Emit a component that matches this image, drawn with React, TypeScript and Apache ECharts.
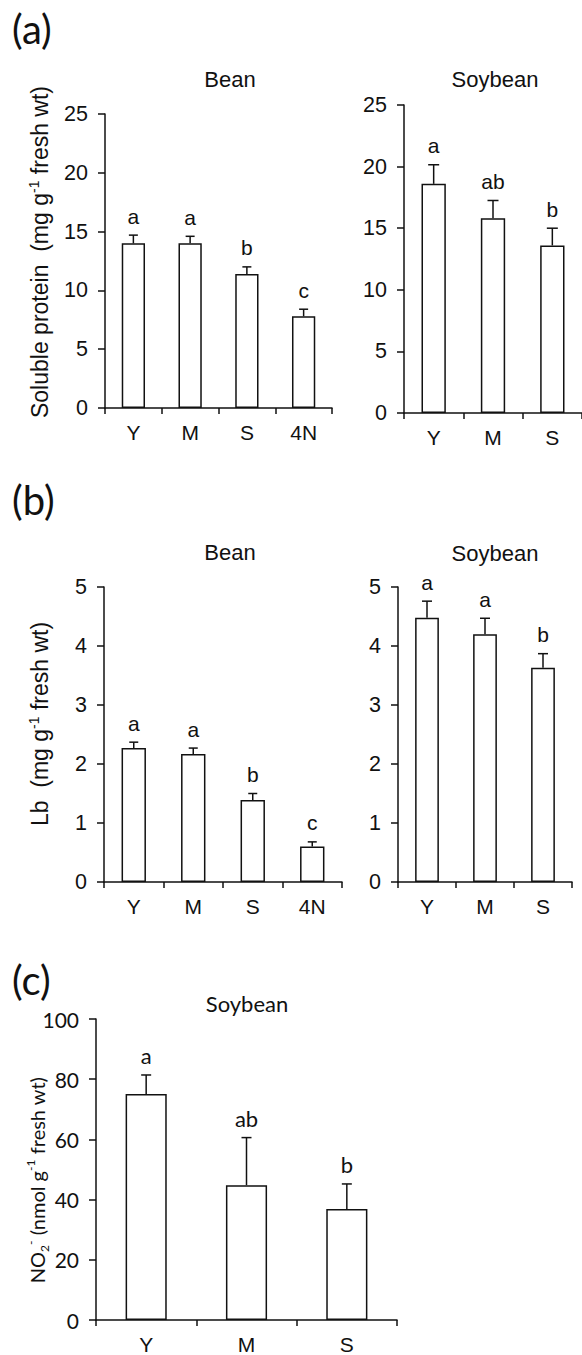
import React, { useEffect, useRef } from "react";
import * as echarts from "echarts";

const beanCats = ["Y", "M", "S", "4N"];
const soyCats = ["Y", "M", "S"];

const beanProtein = [14.0, 14.0, 11.4, 7.8];
const beanProteinErr = [0.7, 0.6, 0.6, 0.6];
const beanProteinLetters = ["a", "a", "b", "c"];

const soyProtein = [18.6, 15.8, 13.6];
const soyProteinErr = [1.55, 1.45, 1.4];
const soyProteinLetters = ["a", "ab", "b"];

const beanLb = [2.27, 2.17, 1.39, 0.6];
const beanLbErr = [0.1, 0.1, 0.11, 0.08];
const beanLbLetters = ["a", "a", "b", "c"];

const soyLb = [4.48, 4.2, 3.63];
const soyLbErr = [0.28, 0.27, 0.24];
const soyLbLetters = ["a", "a", "b"];

const soyNO2 = [75.1, 44.8, 36.9];
const soyNO2Err = [6.3, 15.8, 8.3];
const soyNO2Letters = ["a", "ab", "b"];

const ARIAL = "'Liberation Sans', Arial, sans-serif";
const CAL = "Lato, 'Open Sans', sans-serif";
const INK = "#111";

type Panel = {
  cats: string[];
  vals: number[];
  errs: number[];
  letters: string[];
  max: number;
  interval: number;
  grid: { left: number; top: number; width: number; height: number };
  yFont: string;
  xFont: string;
  letterFont: string;
  capHalf: number;
};

const panels: Panel[] = [
  { cats: beanCats, vals: beanProtein, errs: beanProteinErr, letters: beanProteinLetters, max: 25, interval: 5,
    grid: { left: 105, top: 114, width: 227, height: 294 }, yFont: ARIAL, xFont: ARIAL, letterFont: ARIAL, capHalf: 4.5 },
  { cats: soyCats, vals: soyProtein, errs: soyProteinErr, letters: soyProteinLetters, max: 25, interval: 5,
    grid: { left: 404, top: 105, width: 186, height: 308 }, yFont: ARIAL, xFont: ARIAL, letterFont: ARIAL, capHalf: 5.5 },
  { cats: beanCats, vals: beanLb, errs: beanLbErr, letters: beanLbLetters, max: 5, interval: 1,
    grid: { left: 104, top: 587, width: 238, height: 295 }, yFont: ARIAL, xFont: ARIAL, letterFont: ARIAL, capHalf: 4.5 },
  { cats: soyCats, vals: soyLb, errs: soyLbErr, letters: soyLbLetters, max: 5, interval: 1,
    grid: { left: 398, top: 587, width: 174, height: 295 }, yFont: ARIAL, xFont: ARIAL, letterFont: ARIAL, capHalf: 5 },
  { cats: soyCats, vals: soyNO2, errs: soyNO2Err, letters: soyNO2Letters, max: 100, interval: 20,
    grid: { left: 96, top: 1019, width: 301, height: 303 }, yFont: CAL, xFont: ARIAL, letterFont: CAL, capHalf: 5 },
];

function buildOption() {
  const axisLineStyle = { color: INK, width: 1.5 };
  const grid: any[] = [];
  const xAxis: any[] = [];
  const yAxis: any[] = [];
  const series: any[] = [];
  panels.forEach((p, gi) => {
    grid.push({ ...p.grid, containLabel: false });
    xAxis.push({
      type: "category",
      gridIndex: gi,
      data: p.cats,
      axisLine: { show: true, lineStyle: axisLineStyle },
      axisTick: { show: true, length: 6, lineStyle: axisLineStyle },
      axisLabel: { color: INK, fontSize: 21, fontFamily: p.xFont, margin: 14 },
      splitLine: { show: false },
    });
    yAxis.push({
      type: "value",
      gridIndex: gi,
      min: 0,
      max: p.max,
      interval: p.interval,
      axisLine: { show: true, lineStyle: axisLineStyle },
      axisTick: { show: true, length: 7, lineStyle: axisLineStyle },
      axisLabel: { color: INK, fontSize: p.yFont === CAL ? 21 : 21.5, fontFamily: p.yFont, margin: 17 },
      splitLine: { show: false },
    });
    series.push({
      type: "bar",
      xAxisIndex: gi,
      yAxisIndex: gi,
      data: p.vals,
      barWidth: "41%",
      itemStyle: { color: "#fff", borderColor: INK, borderWidth: 1.5 },
      z: 2,
    });
    series.push({
      type: "custom",
      xAxisIndex: gi,
      yAxisIndex: gi,
      z: 5,
      encode: { x: 0, y: 1 },
      data: p.vals.map((v, i) => [i, v, p.errs[i]]),
      renderItem: (params: any, api: any) => {
        const i = api.value(0);
        const v = api.value(1);
        const e = api.value(2);
        const p0 = api.coord([i, v]);
        const p1 = api.coord([i, v + e]);
        const style = { stroke: INK, lineWidth: 1.5 };
        return {
          type: "group",
          children: [
            { type: "line", shape: { x1: p0[0], y1: p0[1], x2: p1[0], y2: p1[1] }, style },
            { type: "line", shape: { x1: p1[0] - p.capHalf, y1: p1[1], x2: p1[0] + p.capHalf, y2: p1[1] }, style },
            {
              type: "text",
              x: p1[0],
              y: p1[1] - 19,
              style: {
                text: p.letters[params.dataIndex],
                align: "center",
                verticalAlign: "middle",
                fontSize: p.letterFont === CAL ? 22 : 21,
                fontFamily: p.letterFont,
                fill: INK,
              },
            },
          ],
        };
      },
    });
  });

  const title = (text: string, x: number, y: number, font: string, size: number) => ({
    type: "text",
    x,
    y,
    style: { text, align: "center", verticalAlign: "middle", fontSize: size, fontFamily: font, fill: INK },
  });
  const panelLabel = (text: string, x: number, y: number) => ({
    type: "text",
    x,
    y,
    style: { text, align: "left", verticalAlign: "middle", fontSize: 40, fontFamily: CAL, fill: INK },
  });
  const supRich = (font: string, size: number) => ({
    sup: { fontSize: size, fontFamily: font, fill: INK, verticalAlign: "top", lineHeight: 26 },
    sub: { fontSize: size, fontFamily: font, fill: INK, verticalAlign: "bottom", lineHeight: 26 },
  });
  const yName = (text: string, x: number, y: number, font: string, size: number) => ({
    type: "text",
    x,
    y,
    rotation: Math.PI / 2,
    style: {
      text,
      align: "center",
      verticalAlign: "middle",
      fontSize: size,
      fontFamily: font,
      fill: INK,
      lineHeight: 26,
      rich: supRich(font, Math.round(size * 0.62)),
    },
  });

  const graphic = [
    panelLabel("(a)", 12, 29),
    panelLabel("(b)", 12, 500),
    panelLabel("(c)", 12, 980),
    title("Bean", 230, 79, ARIAL, 22),
    title("Soybean", 495, 79, ARIAL, 22),
    title("Bean", 230, 552, ARIAL, 22),
    title("Soybean", 495, 553, ARIAL, 22),
    title("Soybean", 247, 1003, CAL, 22),
    yName("Soluble protein  (mg g{sup|-1} fresh wt)", 40, 252, ARIAL, 23),
    yName("Lb  (mg g{sup|-1} fresh wt)", 40, 724, ARIAL, 23),
    yName("NO{sub|2}{sup|-} (nmol g{sup|-1} fresh wt)", 37, 1180, CAL, 20),
  ];

  return {
    animation: false,
    backgroundColor: "#fff",
    grid,
    xAxis,
    yAxis,
    series,
    graphic,
  };
}

export default function App() {
  const ref = useRef<HTMLDivElement>(null);
  useEffect(() => {
    if (!ref.current) return;
    const chart = echarts.init(ref.current, undefined, { renderer: "svg" });
    chart.setOption(buildOption() as any);
    return () => chart.dispose();
  }, []);
  return (
    <div
      ref={ref}
      style={{ position: "absolute", left: 0, top: 0, width: 582, height: 1355, overflow: "hidden", background: "#fff" }}
    />
  );
}
